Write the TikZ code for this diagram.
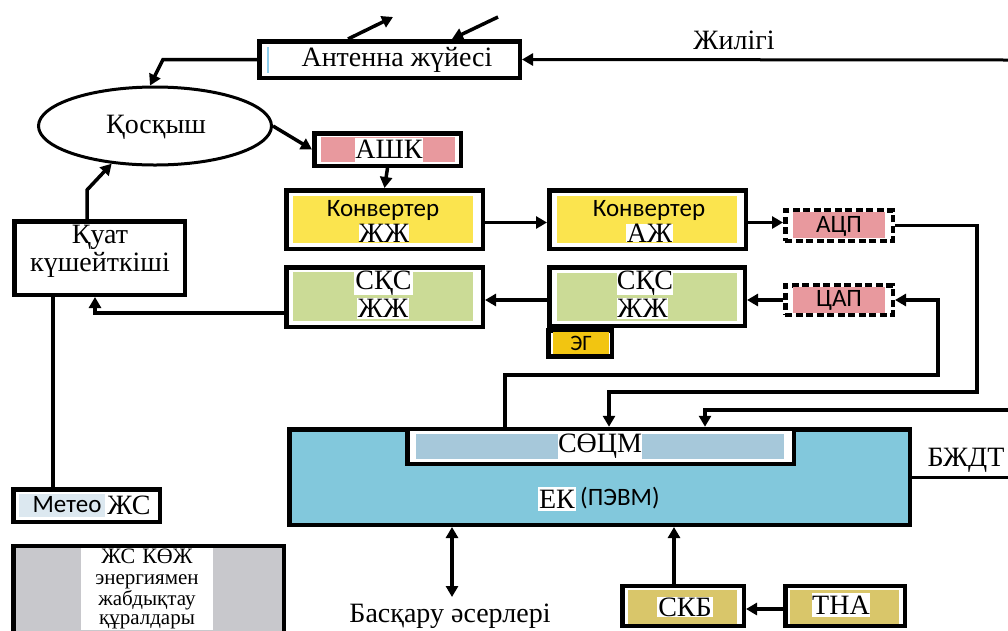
\documentclass[tikz,border=0pt]{standalone}
\usepackage{fontspec}
\setmainfont{Liberation Serif}
\setsansfont{Carlito}
\usetikzlibrary{arrows.meta,shapes.geometric,calc}
\definecolor{cyel}{HTML}{FBE44E}
\definecolor{cgrn}{HTML}{CBDB96}
\definecolor{cpnk}{HTML}{E8999E}
\definecolor{corg}{HTML}{F2C511}
\definecolor{cek}{HTML}{82C8DC}
\definecolor{csoc}{HTML}{A6C8DA}
\definecolor{cgold}{HTML}{D9C66A}
\definecolor{cgray}{HTML}{C8C8CC}
\definecolor{cmet}{HTML}{DCE8F0}
\definecolor{cbl}{HTML}{8ECFEE}
\begin{document}
\begin{tikzpicture}[x=1pt,y=-1pt,
  box/.style={draw,line width=4.5pt,fill=white,inner sep=0pt,rectangle},
  dbox/.style={draw,line width=4.5pt,dash pattern=on 7pt off 3.5pt,fill=white,inner sep=0pt,rectangle},
  arr/.style={line width=3.5pt,-{Triangle[length=11pt,width=12pt]}},
  darr/.style={line width=3.5pt,{Triangle[length=11pt,width=12pt]}-{Triangle[length=11pt,width=12pt]}},
  ln/.style={line width=3.5pt},
  ser/.style={font=\fontsize{28}{30}\selectfont,inner sep=0pt},
  sans/.style={font=\sffamily\fontsize{25}{27}\selectfont,inner sep=0pt},
  wbg/.style={fill=white,inner sep=0pt}
]
\useasboundingbox (0,0) rectangle (1008,630);
\clip (0,0) rectangle (1008,630);

% coordinates for free ends and bends
\coordinate (t1) at (393,17);
\coordinate (t2) at (498,17);
\coordinate (fr) at (1008,60);
\coordinate (r3) at (1008,410);
\coordinate (rb) at (1008,477);
\coordinate (bend1) at (163,59.5);
\coordinate (bend2) at (87,190);
\coordinate (c1) at (977,392);
\coordinate (c2) at (938,375);
\coordinate (bot) at (452,597);
\coordinate (x505) at (505,0);
\coordinate (x609) at (609,0);
\coordinate (x705) at (705,0);
\coordinate (x95) at (95,0);
\coordinate (x53) at (53,0);
\coordinate (x87) at (87,0);
\coordinate (x452) at (452,0);
\coordinate (x674) at (674,0);

% Antenna
\node[box,minimum width=260.5pt,minimum height=36.5pt] (ant) at (389.5,59.5) {};
\draw[cbl,line width=1.5pt] (268,47) -- (268,73);
\node[ser] (tant) at (397,60) {Антенна жүйесі};
\node[ser] (tfreq) at (734,40) {Жилігі};

% Ellipse
\node[draw,ellipse,line width=3pt,minimum width=233pt,minimum height=78pt,inner sep=0pt] (ell) at (155,126) {};
\node[ser] (tell) at (156,127) {Қосқыш};

% ASHK
\node[box,minimum width=146.5pt,minimum height=32.5pt] (ashk) at (387.5,149.5) {};
\fill[cpnk] (321,137) rectangle (455,162);
\node[ser,wbg,minimum width=62pt,minimum height=24pt] (tashk) at (389,149.5) {АШК};

% Converter ZhZh
\node[box,minimum width=196.5pt,minimum height=58.5pt] (kzh) at (384.5,219.5) {};
\fill[cyel] (293,196) rectangle (473,243);
\node[sans] (tkzh1) at (383,210) {Конвертер};
\node[ser,wbg,minimum width=46pt,minimum height=17pt] (tkzh2) at (384,233) {ЖЖ};

% Converter AZh
\node[box,minimum width=196.5pt,minimum height=58.5pt] (kazh) at (647.5,219.5) {};
\fill[cyel] (557,196) rectangle (737,243);
\node[sans] (tkazh1) at (649,210) {Конвертер};
\node[ser,wbg,minimum width=47pt,minimum height=17pt] (tkazh2) at (649.5,233) {АЖ};

% ADC / DAC
\node[dbox,minimum width=107.5pt,minimum height=30.5pt] (adc) at (839,225.5) {};
\fill[cpnk] (793,212) rectangle (885,238);
\node[sans] (tadc) at (839,226) {АЦП};
\node[dbox,minimum width=107.5pt,minimum height=29.5pt] (dac) at (839,300) {};
\fill[cpnk] (793,287) rectangle (885,313);
\node[sans] (tdac) at (839,300) {ЦАП};

% SKS left
\node[box,minimum width=196.5pt,minimum height=59.5pt] (sks1) at (384.5,297) {};
\fill[cgrn] (293,272) rectangle (473,321);
\node[ser,wbg,minimum width=59pt,minimum height=21pt] (tsks1a) at (383.5,283) {СҚС};
\node[ser,wbg,minimum width=52pt,minimum height=21pt] (tsks1b) at (383,308.5) {ЖЖ};

% SKS right
\node[box,minimum width=195.5pt,minimum height=58.5pt] (sks2) at (647,296.5) {};
\fill[cgrn] (557,273) rectangle (737,321);
\node[ser,wbg,minimum width=56pt,minimum height=21pt] (tsks2a) at (645,283) {СҚС};
\node[ser,wbg,minimum width=47pt,minimum height=21pt] (tsks2b) at (642.5,308.5) {ЖЖ};

% EG
\node[box,minimum width=63.5pt,minimum height=26pt] (eg) at (580,343.5) {};
\fill[corg] (553,332) rectangle (609,354);
\node[sans,font=\sffamily\fontsize{22}{24}\selectfont] (teg) at (581,343) {ЭГ};

% Power amplifier
\node[box,minimum width=170.5pt,minimum height=73.5pt] (kuat) at (99.5,258) {};
\node[ser] (tkuat1) at (100,237) {Қуат};
\node[ser] (tkuat2) at (100,265) {күшейткіші};

% Meteo
\node[box,minimum width=146.5pt,minimum height=32.5pt] (meteo) at (86.5,505.5) {};
\fill[cmet] (19,494) rectangle (153,517);
\node[sans] (tmet1) at (67,505) {Метео};
\node[ser,wbg,minimum width=48pt,minimum height=23pt] (tmet2) at (129,505.5) {ЖС};

% Energy supply
\node[box,fill=cgray,minimum width=270.5pt,minimum height=102.5pt] (zhs) at (148.5,597) {};
\node[wbg,align=center,font=\fontsize{21}{19}\selectfont,text width=130pt,inner sep=1pt] (tzhs) at (147,589) {{\fontsize{22}{19}\selectfont ЖС КӨЖ}\\[2pt]энергиямен\\жабдықтау\\құралдары};

% EK
\node[box,fill=cek,minimum width=620.5pt,minimum height=95.5pt] (ek) at (599.5,477) {};
\node[box,minimum width=386.5pt,minimum height=35pt] (socm) at (600.5,446.5) {};
\fill[csoc] (416,434) rectangle (784,459);
\node[ser,wbg,minimum width=80pt,minimum height=25pt] (tsocm) at (600,446.5) {СӨЦМ};
\node[ser,wbg,minimum width=38pt,minimum height=24pt] (tek) at (557,499) {ЕК};
\node[sans,anchor=west] (tpevm) at (580,498) {(ПЭВМ)};
\node[ser] (tbzh) at (966,460) {БЖДТ};

% bottom
\node[box,minimum width=121.5pt,minimum height=40pt] (skb) at (683,606) {};
\fill[cgold] (628,590) rectangle (737,624);
\node[ser,wbg,minimum width=56pt,minimum height=20pt] (tskb) at (685,607) {СКБ};
\node[box,minimum width=119.5pt,minimum height=40pt] (tna) at (845,606) {};
\fill[cgold] (790,590) rectangle (899,624);
\node[ser,wbg,minimum width=56pt,minimum height=24pt] (ttna) at (841,605) {ТНА};
\node[ser] (tbas) at (450,616) {Басқару әсерлері};

% connectors
\draw[arr] ($(ant.north)+(-41.5,0)$) -- (t1);
\draw[arr] (t2) -- ($(ant.north)+(62.5,0)$);
\draw[arr] (ant.west) -- (bend1) -- (ell.97);
\draw[arr,line width=3pt] (fr) -- (ant.east);
\draw[arr] (ell.east) -- (ashk.west);
\draw[arr] (ashk.south) -- (kzh.north);
\draw[arr] ([yshift=-3pt]kzh.east) -- ([yshift=-3pt]kazh.west);
\draw[arr] ([yshift=-3pt]kazh.east) -- ([yshift=-3pt]kazh.east -| adc.west);
\draw[arr] (adc.east) -| (c1) -| (x609 |- socm.north);
\draw[arr] (r3) -| (x705 |- socm.north);
\draw[arr] (x505 |- socm.north) |- (c2) |- (dac.east);
\draw[arr] (dac.west) -- (dac.west -| sks2.east);
\draw[arr] ([yshift=-3.5pt]sks2.west) -- ([yshift=-3.5pt]sks2.west -| sks1.east);
\draw[arr] ([yshift=-16pt]sks1.west) -| (x95 |- kuat.south);
\draw[ln] (x53 |- meteo.north) -- (x53 |- kuat.south);
\draw[arr] (x87 |- kuat.north) -- (bend2) -- (ell.221);
\draw[darr] (x452 |- ek.south) -- (bot);
\draw[arr] (x674 |- skb.north) -- (x674 |- ek.south);
\draw[arr] ([yshift=-3pt]tna.west) -- ([yshift=-3pt]skb.east);
\draw[ln,line width=3pt] (ek.east) -- (rb);
\end{tikzpicture}
\end{document}
